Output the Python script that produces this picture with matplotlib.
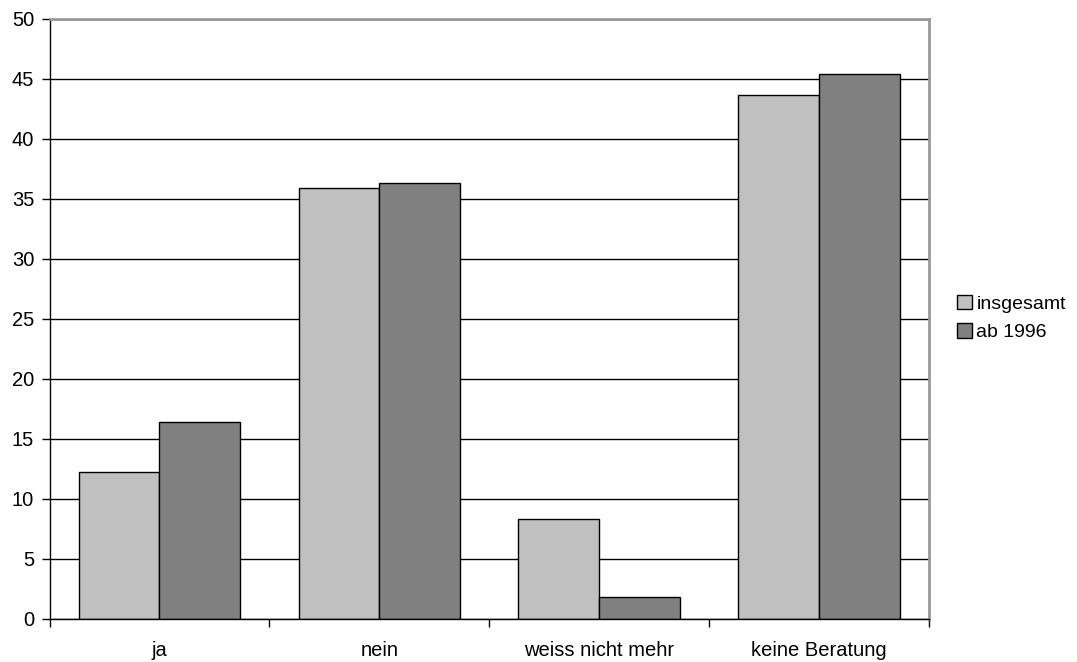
import matplotlib
matplotlib.use("Agg")
import matplotlib.pyplot as plt
import numpy as np
from matplotlib.patches import Patch

categories = ["ja", "nein", "weiss nicht mehr", "keine Beratung"]
series_names = ["insgesamt", "ab 1996"]
insgesamt = [12.25, 35.9, 8.3, 43.6]
ab1996 = [16.4, 36.3, 1.8, 45.4]
yticks = [0, 5, 10, 15, 20, 25, 30, 35, 40, 45, 50]

colors = ["#c0c0c0", "#808080"]

plt.rcParams['font.family'] = ['Liberation Sans', 'DejaVu Sans']

fig = plt.figure(figsize=(10.77, 6.62), dpi=100)
ax = fig.add_axes([49.5/1077, 1 - 618.5/662, (929 - 49.5)/1077, 600/662])

x = np.arange(len(categories))
w = 0.367
ax.bar(x - w/2, insgesamt, width=w, color=colors[0], edgecolor="black", linewidth=1, zorder=3)
ax.bar(x + w/2, ab1996, width=w, color=colors[1], edgecolor="black", linewidth=1, zorder=3)

ax.set_xlim(-0.5, len(categories) - 0.5)
ax.set_ylim(0, 50)
ax.set_yticks(yticks)
ax.set_yticklabels([str(v) for v in yticks], fontsize=14.5)
ax.yaxis.grid(True, color="black", linewidth=1, zorder=0)
ax.set_axisbelow(True)

ax.set_xticks(x)
ax.set_xticklabels(categories, fontsize=14.5)
ax.tick_params(axis='x', which='major', length=0, pad=16)
ax.set_xticks(np.arange(-0.5, len(categories)), minor=True)
ax.tick_params(axis='x', which='minor', length=6, width=1, direction='out', color='black')
ax.tick_params(axis='y', length=6, width=1, direction='out', pad=5)

for s in ["left", "bottom"]:
    ax.spines[s].set_color("black")
    ax.spines[s].set_linewidth(1)
for s in ["top", "right"]:
    ax.spines[s].set_color("#999999")
    ax.spines[s].set_linewidth(2)
ax.spines["bottom"].set_zorder(4)

handles = [Patch(facecolor=colors[i], edgecolor="black", label=series_names[i]) for i in range(2)]
fig.legend(handles=handles, loc="center left", bbox_to_anchor=(957/1077, 1 - 318/662),
           frameon=False, fontsize=14, handlelength=0.75, handleheight=0.75,
           handletextpad=0.25, labelspacing=0.55, borderaxespad=0, borderpad=0)

fig.savefig("out.png", dpi=100, facecolor="white")
